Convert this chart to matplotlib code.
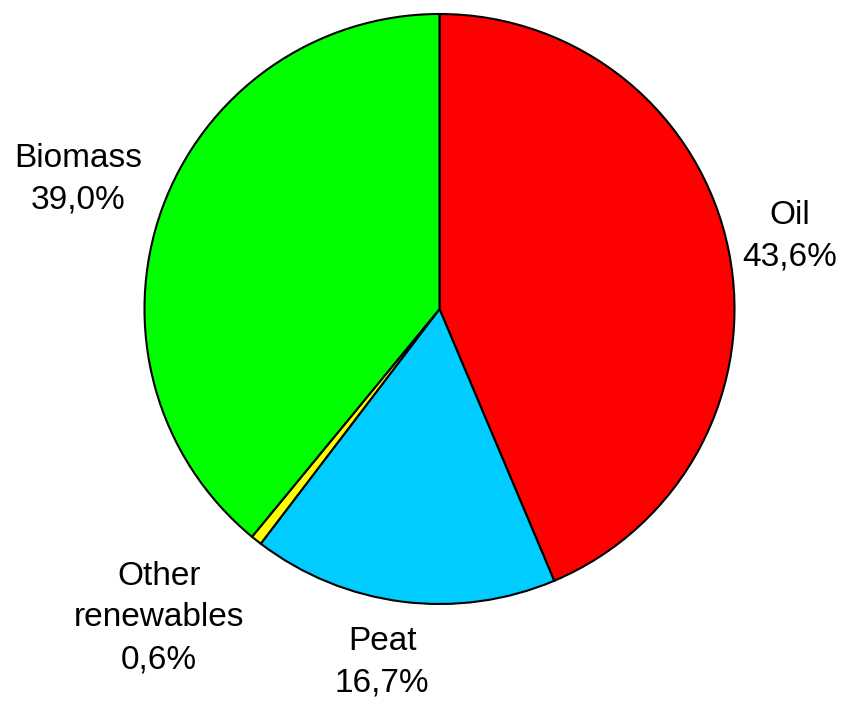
import matplotlib
matplotlib.use("Agg")
import matplotlib.pyplot as plt
import numpy as np

# Data
labels = ["Oil", "Peat", "Other\nrenewables", "Biomass"]
shares = [43.6, 16.7, 0.6, 39.0]
colors = ["#FF0000", "#00CCFF", "#FFFF00", "#00FF00"]
# label placement: distance (in radii) and angular nudge (deg)
label_dist = [1.214, 1.212, 1.415, 1.30]
label_nudge = [0.3, -2.0, -3.9, 0.0]

plt.rcParams['font.family'] = ['Liberation Sans', 'DejaVu Sans']

fig = plt.figure(figsize=(8.48, 7.02), dpi=100)
ax = fig.add_axes([0, 0, 1, 1])

# pie center / radius in pixel units
cx, cy, r = 439.5, 702 - 309, 295

wedges, _ = ax.pie(shares, colors=colors, startangle=90, counterclock=False,
                   center=(cx, cy), radius=r, frame=True,
                   wedgeprops=dict(edgecolor='black', linewidth=1.5))
ax.set_xlim(0, 848)
ax.set_ylim(0, 702)
ax.set_aspect('equal')
ax.axis('off')

for w, lab, val, d, nd in zip(wedges, labels, shares, label_dist, label_nudge):
    ang = np.deg2rad((w.theta1 + w.theta2) / 2 + nd)
    x = cx + d * r * np.cos(ang)
    y = cy + d * r * np.sin(ang)
    txt = f"{lab}\n{val:.1f}%".replace(".", ",")
    ax.text(x, y, txt, ha='center', va='center', fontsize=24, linespacing=1.45)

fig.savefig("out.png", dpi=100)
